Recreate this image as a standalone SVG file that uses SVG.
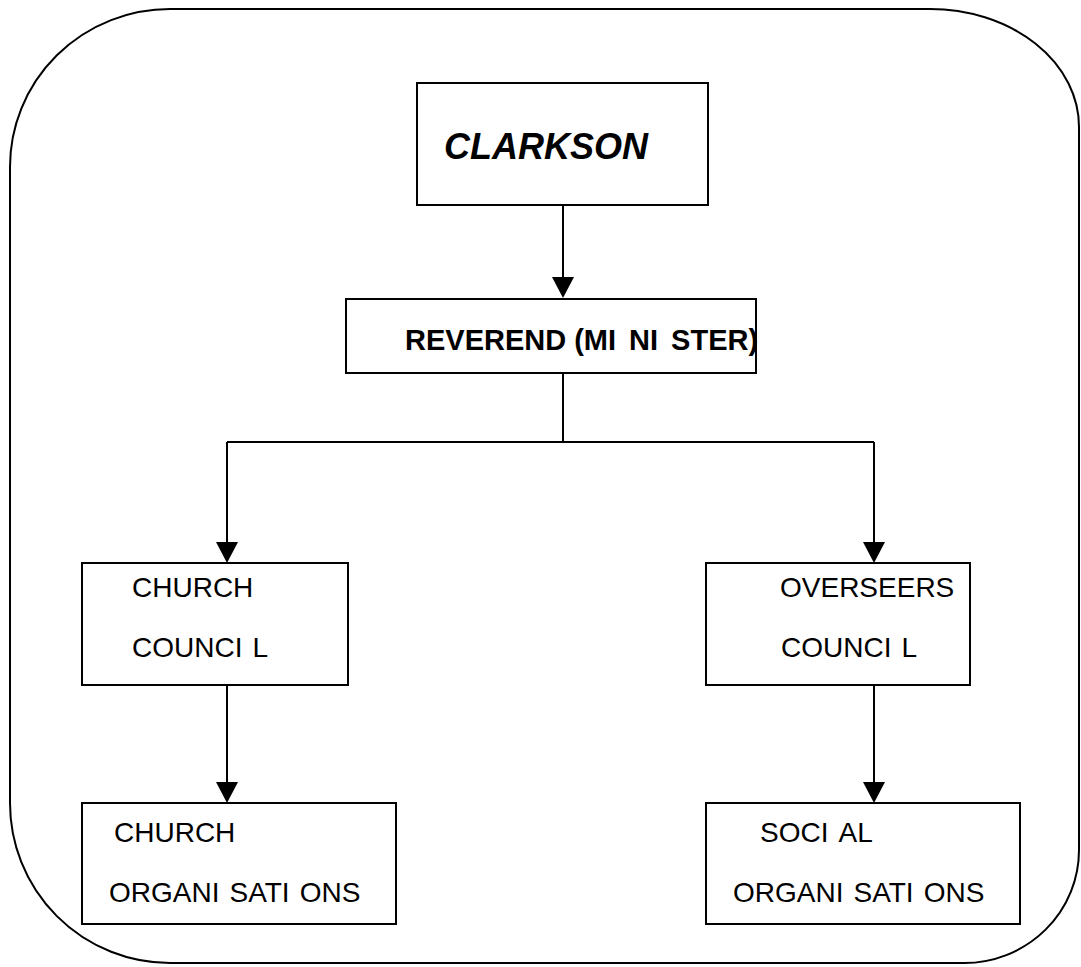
<svg xmlns="http://www.w3.org/2000/svg" width="1081" height="967" viewBox="0 0 1081 967">
<style>
.box{fill:#fff;stroke:#000;stroke-width:2}
.line{fill:none;stroke:#000;stroke-width:2}
.t{font-family:"Liberation Sans",Arial,sans-serif;font-size:28px;fill:#000}
.b{font-weight:bold}
</style>
<rect width="1081" height="967" fill="#fff"/>
<path class="line" d="M170,9 H930 A149 118 0 0 1 1079 127 V850 A115 113 0 0 1 964 963 H170 A160 160 0 0 1 10 803 V167 A160 158 0 0 1 170 9 Z"/>
<g id="connectors">
<line class="line" x1="563" y1="205" x2="563" y2="290"/>
<path class="line" d="M563,373 V442 H227 M563,442 H874"/>
<line class="line" x1="227" y1="442" x2="227" y2="555"/>
<line class="line" x1="874" y1="442" x2="874" y2="555"/>
<line class="line" x1="227" y1="685" x2="227" y2="795"/>
<line class="line" x1="874" y1="685" x2="874" y2="795"/>
<g fill="#000">
<path d="M552,277 L574,277 L563,298 Z"/>
<path d="M216,542 L238,542 L227,563 Z"/>
<path d="M863,542 L885,542 L874,563 Z"/>
<path d="M216,782 L238,782 L227,803 Z"/>
<path d="M863,782 L885,782 L874,803 Z"/>
</g>
</g>
<g id="clarkson">
<rect class="box" x="417" y="83" width="291" height="122"/>
<text class="t b" x="444" y="159" font-style="italic" style="font-size:36px">CLARKSON</text>
</g>
<g id="reverend">
<rect class="box" x="346" y="299" width="410" height="74"/>
<text class="t b" x="405" y="350" style="font-size:29px">REVEREND (MI<tspan dx="13">NI</tspan><tspan dx="13">STER)</tspan></text>
</g>
<g id="church-council">
<rect class="box" x="82" y="563" width="266" height="122"/>
<text class="t" x="132" y="597">CHURCH</text>
<text class="t" x="132" y="657">COUNCI<tspan dx="10">L</tspan></text>
</g>
<g id="overseers-council">
<rect class="box" x="706" y="563" width="264" height="122"/>
<text class="t" x="780" y="597">OVERSEERS</text>
<text class="t" x="781" y="657">COUNCI<tspan dx="10">L</tspan></text>
</g>
<g id="church-organisations">
<rect class="box" x="82" y="803" width="314" height="121"/>
<text class="t" x="114" y="842">CHURCH</text>
<text class="t" x="109" y="902">ORGANI<tspan dx="10">SATI</tspan><tspan dx="10">ONS</tspan></text>
</g>
<g id="social-organisations">
<rect class="box" x="706" y="803" width="314" height="121"/>
<text class="t" x="760" y="842">SOCI<tspan dx="10">AL</tspan></text>
<text class="t" x="733" y="902">ORGANI<tspan dx="10">SATI</tspan><tspan dx="10">ONS</tspan></text>
</g>
</svg>
